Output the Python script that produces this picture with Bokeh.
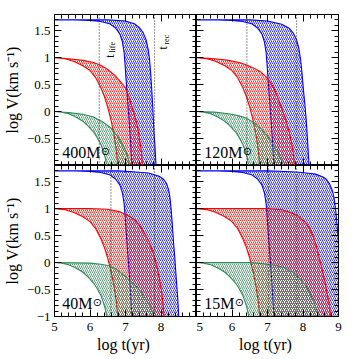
import math
from bokeh.plotting import figure
from bokeh.layouts import gridplot
from bokeh.models import FixedTicker, LinearAxis, Range1d, Span
from bokeh.core.properties import value
from bokeh.embed import file_html
from bokeh.resources import INLINE

# ---------------- data ----------------
masses = ["400", "120", "40", "15"]
t_life = [6.26, 6.42, 6.59, 7.03]
t_rec = [7.82, 7.82, 7.82, 7.82]

x_major = [5, 6, 7, 8, 9]
y_major = [-1, -0.5, 0, 0.5, 1, 1.5]

# early-dropping edge of each band (same in all panels)
green_early_t = [5.00, 5.20, 5.40, 5.60, 5.80, 5.95, 6.10, 6.20, 6.30, 6.37, 6.43, 6.47]
green_early_v = [0.00, -0.01, -0.04, -0.10, -0.18, -0.27, -0.38, -0.48, -0.60, -0.73, -0.86, -1.00]
red_early_t = [5.00, 5.30, 5.55, 5.80, 6.00, 6.15, 6.30, 6.40, 6.50, 6.60, 6.68, 6.74, 6.78]
red_early_v = [1.00, 0.98, 0.93, 0.85, 0.76, 0.64, 0.45, 0.29, 0.08, -0.18, -0.45, -0.72, -1.00]
blue_early_t = [5.00, 5.60, 6.00, 6.30, 6.55, 6.72, 6.84, 6.91, 6.96, 6.99, 7.02, 7.06, 7.10, 7.14, 7.18]
blue_early_v = [1.70, 1.70, 1.69, 1.67, 1.63, 1.55, 1.44, 1.30, 1.10, 0.85, 0.55, 0.20, -0.15, -0.55, -1.00]

# late-dropping edge, 400 Msun
blue_late_t_400 = [5.00, 6.50, 7.00, 7.25, 7.40, 7.50, 7.58, 7.64, 7.68, 7.71, 7.74, 7.77, 7.80, 7.83, 7.86]
blue_late_v_400 = [1.70, 1.70, 1.68, 1.63, 1.55, 1.46, 1.33, 1.15, 0.95, 0.70, 0.40, 0.05, -0.35, -0.65, -1.00]
red_late_t_400 = [5.00, 5.40, 5.80, 6.10, 6.30, 6.50, 6.70, 6.85, 7.00, 7.08, 7.15, 7.23, 7.30, 7.36, 7.40, 7.45, 7.48]
red_late_v_400 = [1.00, 0.98, 0.95, 0.91, 0.86, 0.78, 0.67, 0.56, 0.44, 0.31, 0.16, -0.01, -0.17, -0.35, -0.52, -0.76, -1.00]
green_late_t_400 = [5.00, 5.40, 5.80, 6.10, 6.35, 6.60, 6.80, 6.95, 7.05, 7.12]
green_late_v_400 = [0.00, -0.02, -0.05, -0.10, -0.19, -0.31, -0.48, -0.65, -0.80, -1.00]

# 120 Msun
blue_late_t_120 = [5.00, 6.50, 7.00, 7.40, 7.60, 7.72, 7.82, 7.88, 7.93, 7.97, 8.01, 8.05, 8.09, 8.13, 8.17]
blue_late_v_120 = [1.70, 1.70, 1.68, 1.62, 1.55, 1.46, 1.33, 1.18, 0.98, 0.73, 0.42, 0.15, -0.15, -0.55, -1.00]
red_late_t_120 = [5.00, 5.50, 5.90, 6.20, 6.40, 6.60, 6.80, 7.00, 7.12, 7.22, 7.35, 7.50, 7.60, 7.68, 7.73, 7.76]
red_late_v_120 = [1.00, 0.98, 0.95, 0.91, 0.87, 0.81, 0.74, 0.62, 0.50, 0.38, 0.15, -0.12, -0.35, -0.58, -0.78, -1.00]
green_late_t_120 = [5.00, 5.50, 5.90, 6.20, 6.40, 6.65, 6.85, 7.00, 7.15, 7.27, 7.37, 7.45]
green_late_v_120 = [0.00, -0.01, -0.04, -0.08, -0.12, -0.22, -0.34, -0.45, -0.60, -0.74, -0.87, -1.00]

# 40 Msun
blue_late_t_40 = [5.00, 6.80, 7.30, 7.65, 7.95, 8.08, 8.16, 8.22, 8.26, 8.29, 8.32, 8.35, 8.39, 8.43, 8.47, 8.50]
blue_late_v_40 = [1.70, 1.70, 1.68, 1.66, 1.60, 1.54, 1.46, 1.34, 1.17, 0.95, 0.70, 0.40, 0.08, -0.30, -0.65, -1.00]
red_late_t_40 = [5.00, 6.00, 6.50, 6.85, 7.05, 7.25, 7.40, 7.55, 7.67, 7.77, 7.86, 7.95, 8.02, 8.06, 8.09]
red_late_v_40 = [1.00, 1.00, 0.99, 0.94, 0.88, 0.80, 0.69, 0.53, 0.38, 0.20, 0.00, -0.27, -0.55, -0.78, -1.00]
green_late_t_40 = [5.00, 6.00, 6.30, 6.55, 6.75, 6.95, 7.15, 7.35, 7.52, 7.65, 7.74, 7.80]
green_late_v_40 = [0.00, -0.01, -0.03, -0.06, -0.13, -0.23, -0.35, -0.47, -0.62, -0.76, -0.88, -1.00]

# 15 Msun
blue_late_t_15 = [5.00, 7.00, 7.50, 7.80, 8.10, 8.35, 8.55, 8.65, 8.75, 8.83, 8.88, 8.92, 8.96, 9.00, 9.05, 9.10, 9.15]
blue_late_v_15 = [1.70, 1.70, 1.69, 1.68, 1.66, 1.64, 1.59, 1.55, 1.46, 1.33, 1.18, 0.98, 0.70, 0.38, 0.00, -0.45, -1.00]
red_late_t_15 = [5.00, 6.50, 7.00, 7.40, 7.65, 7.85, 8.05, 8.18, 8.28, 8.37, 8.45, 8.55, 8.63, 8.70, 8.75, 8.78]
red_late_v_15 = [1.00, 1.00, 1.00, 0.98, 0.93, 0.87, 0.76, 0.65, 0.50, 0.32, 0.10, -0.15, -0.40, -0.63, -0.82, -1.00]
green_late_t_15 = [5.00, 6.50, 6.85, 7.20, 7.50, 7.75, 7.95, 8.10, 8.22, 8.32, 8.39, 8.44]
green_late_v_15 = [0.00, 0.00, -0.02, -0.05, -0.10, -0.20, -0.32, -0.45, -0.60, -0.76, -0.88, -1.00]

late = {
    "400": [(blue_late_t_400, blue_late_v_400), (red_late_t_400, red_late_v_400), (green_late_t_400, green_late_v_400)],
    "120": [(blue_late_t_120, blue_late_v_120), (red_late_t_120, red_late_v_120), (green_late_t_120, green_late_v_120)],
    "40": [(blue_late_t_40, blue_late_v_40), (red_late_t_40, red_late_v_40), (green_late_t_40, green_late_v_40)],
    "15": [(blue_late_t_15, blue_late_v_15), (red_late_t_15, red_late_v_15), (green_late_t_15, green_late_v_15)],
}
early = [(blue_early_t, blue_early_v), (red_early_t, red_early_v), (green_early_t, green_early_v)]
colors = ["#0000ff", "#ff0000", "#2e8b57"]

SERIF = "Liberation Serif"

x_minor = [5 + 0.2 * i for i in range(21)]
y_minor = [round(-1 + 0.1 * i, 2) for i in range(29)]


def style_axis(ax, show, overrides=None, title=None, label_standoff=4, title_standoff=4):
    ax.major_tick_in = 7
    ax.major_tick_out = 0
    ax.minor_tick_in = 4
    ax.minor_tick_out = 0
    ax.axis_line_color = "black"
    ax.major_tick_line_color = "black"
    ax.minor_tick_line_color = "black"
    if show:
        ax.major_label_text_font = SERIF
        ax.major_label_text_font_size = "13px"
        ax.major_label_text_color = "black"
        ax.major_label_standoff = label_standoff
        if overrides:
            ax.major_label_overrides = overrides
    else:
        ax.major_label_text_font_size = "0px"
        ax.major_label_text_color = None
        ax.major_label_standoff = 0
    if title:
        ax.axis_label = title
        ax.axis_label_text_font = SERIF
        ax.axis_label_text_font_size = "16px"
        ax.axis_label_text_font_style = "normal"
        ax.axis_label_text_color = "black"
        ax.axis_label_standoff = title_standoff


def panel(i):
    left = i % 2 == 0
    bottom = i >= 2
    m = masses[i]
    p = figure(x_range=Range1d(5, 9), y_range=Range1d(-1, 1.8),
               frame_width=142, frame_height=151,
               x_axis_type=None, y_axis_type=None,
               output_backend="svg", toolbar_location=None,
               min_border_left=47 if left else 0, min_border_right=0 if left else 12,
               min_border_top=0 if bottom else 14, min_border_bottom=34 if bottom else 0,
               background_fill_color="white", border_fill_color="white",
               outline_line_color="black")

    xt = FixedTicker(ticks=x_major, minor_ticks=x_minor)
    yt = FixedTicker(ticks=y_major, minor_ticks=y_minor)

    if left:
        xo = {5: "5", 6: "6", 7: "7", 8: "8", 9: ""}
    else:
        xo = {5: "5", 6: "6", 7: "7", 8: "8", 9: "9"}
    yo = {-1: "\u22121" if bottom else "", -0.5: "\u22120.5", 0: "0", 0.5: "0.5", 1: "1", 1.5: "1.5"}

    ax_b = LinearAxis(ticker=xt)
    style_axis(ax_b, bottom, xo, "log  t(yr)" if bottom else None, label_standoff=6, title_standoff=2)
    p.add_layout(ax_b, "below")
    ax_t = LinearAxis(ticker=xt)
    style_axis(ax_t, False)
    p.add_layout(ax_t, "above")
    ax_l = LinearAxis(ticker=yt)
    style_axis(ax_l, left, yo, "log V(km s\u207b\u00b9)" if left else None, title_standoff=3)
    p.add_layout(ax_l, "left")
    ax_r = LinearAxis(ticker=yt)
    style_axis(ax_r, False)
    p.add_layout(ax_r, "right")

    for (lt, lv), (et, ev), c in zip(late[m], early, colors):
        xs = list(lt) + list(et)[::-1]
        ys = list(lv) + list(ev)[::-1]
        p.patch(xs, ys, fill_color=None, line_color=c, line_width=1.1,
                hatch_pattern="/", hatch_color=c, hatch_scale=4, hatch_weight=0.8)

    for loc in (t_life[i], t_rec[i]):
        p.add_layout(Span(location=loc, dimension="height", line_color="#222222",
                          line_width=1, line_dash="1 2"))

    if i == 0:
        p.text(x=[t_life[i]], y=[1.0], text=["t"], angle=math.pi / 2, x_offset=10.5,
               text_font=value(SERIF), text_font_size="12px", text_color="black",
               text_align="left", text_baseline="alphabetic")
        p.text(x=[t_life[i]], y=[1.0], text=["life"], angle=math.pi / 2, x_offset=13.5, y_offset=-5,
               text_font=value(SERIF), text_font_size="8px", text_color="black",
               text_align="left", text_baseline="alphabetic")
        p.text(x=[t_rec[i]], y=[1.15], text=["t"], angle=math.pi / 2, x_offset=8.5,
               text_font=value(SERIF), text_font_size="12px", text_color="black",
               text_align="left", text_baseline="alphabetic")
        p.text(x=[t_rec[i]], y=[1.15], text=["rec"], angle=math.pi / 2, x_offset=11.5, y_offset=-5,
               text_font=value(SERIF), text_font_size="8px", text_color="black",
               text_align="left", text_baseline="alphabetic")

    label = m + "M"
    p.text(x=[5.22], y=[-0.76], text=[label], text_font=value(SERIF), text_font_size="16px",
           text_color="black", text_align="left", text_baseline="alphabetic")
    p.text(x=[5.22], y=[-0.76], text=["\u2299"], x_offset=8.0 * len(m) + 14.5, y_offset=-1,
           text_font=value("DejaVu Sans"), text_font_size="11px", text_color="black",
           text_align="left", text_baseline="middle")
    return p


figs = [panel(i) for i in range(4)]
grid = gridplot([[figs[0], figs[1]], [figs[2], figs[3]]], toolbar_location=None)
open("out.html", "w").write(file_html(grid, INLINE))
